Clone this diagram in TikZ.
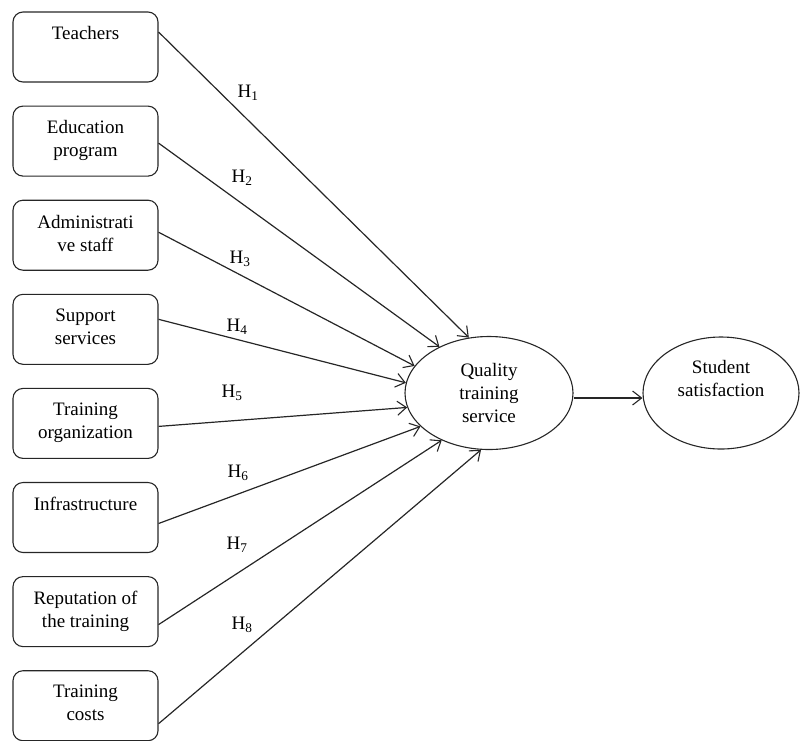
\documentclass[tikz,border=0pt]{standalone}
\usepackage{fontspec}
\setmainfont{Liberation Serif}
\usetikzlibrary{positioning,arrows.meta,calc,shapes.geometric}

\colorlet{frame}{black!85}
\tikzset{
  factor/.style={draw=frame,line width=1.1pt,rounded corners=10pt,minimum width=145pt,minimum height=70pt,inner sep=0pt},
  factortext/.style={anchor=north,inner sep=0pt,align=center,yshift=-15pt},
  construct/.style={ellipse,draw=frame,line width=1.1pt,inner sep=0pt,align=center},
  hyp/.style={-{Straight Barb[length=9pt,width=14pt,line width=1.1pt]},line width=1.2pt,draw=frame},
}

\begin{document}
\begin{tikzpicture}[
      x=1pt,y=-1pt,
      every node/.style={font=\fontsize{19}{23}\selectfont},
      node distance=23pt,
      ]
  \useasboundingbox (0,0) rectangle (800,740);
  \node[factor,label={[factortext]north:Teachers}] (b1) at (85.5,47) {};
  \node[factor,below=of b1,label={[factortext]north:Education\\program}] (b2) {};
  \node[factor,below=of b2,label={[factortext]north:Administrati\\ve staff}] (b3) {};
  \node[factor,below=of b3,label={[factortext]north:Support\\services}] (b4) {};
  \node[factor,below=of b4,label={[factortext]north:Training\\organization}] (b5) {};
  \node[factor,below=of b5,label={[factortext]north:Infrastructure}] (b6) {};
  \node[factor,below=of b6,label={[factortext]north:Reputation of\\the training}] (b7) {};
  \node[factor,below=of b7,label={[factortext]north:Training\\costs}] (b8) {};

  \node[construct,minimum width=168pt,minimum height=113pt] (q) at (489,393) {Quality\\training\\service};
  \node[construct,minimum width=156pt,minimum height=112pt] (s) at (721,393) {Student\\satisfaction\\\strut};

  \foreach \i/\dy/\ang in {1/-15/110,2/2/137,3/-3/160,4/-10/173,5/3/190,6/6/206,7/13/225,8/18/262}
    \draw[hyp] ($(b\i.east)+(0,\dy)$) -- (q.\ang);
  \draw[hyp] ([yshift=-5pt]q.east) -- ([yshift=-5pt]s.west);

  \foreach \i/\x/\y in {1/248/93,2/242/178,3/240/259,4/237/327,5/232/393,6/238/473,7/237/545,8/242/625}
    \node (h\i) at (\x,\y) {H\textsubscript{\i}};
\end{tikzpicture}
\end{document}
